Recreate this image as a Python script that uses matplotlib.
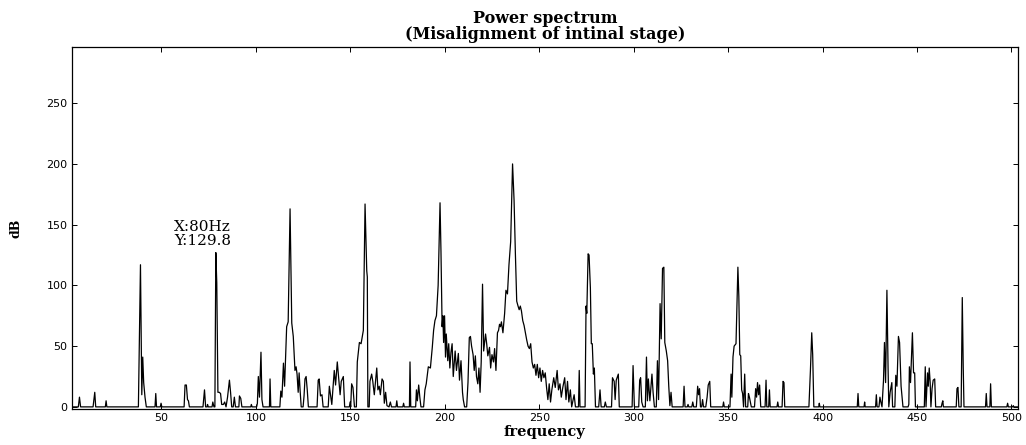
import matplotlib
matplotlib.use("Agg")
from matplotlib import pyplot as plt

# spectrum (frequency in Hz, level in dB)
freq = [
    2.5, 6.0, 6.6, 7.2, 13.8, 14.3, 14.7, 15.2, 20.3, 20.7, 21.1,
    37.8, 38.9, 39.6, 40.1, 40.6, 41.3, 42.0, 46.6, 47.0, 47.4,
    49.4, 49.8, 50.2, 62.0, 62.5, 63.2, 63.8, 64.3, 64.8,
    72.0, 72.8, 73.4, 74.2, 74.4, 74.8, 76.8, 77.2, 77.8, 78.3,
    78.8, 79.3, 79.9, 80.6, 81.3, 81.9, 82.8, 83.5, 84.2, 85.0,
    86.0, 86.6, 87.2, 88.0, 88.6, 89.2, 91.0, 91.3, 92.0, 92.6,
    97.3, 97.6, 98.0, 100.4, 100.8, 101.3, 101.9, 102.7, 103.2, 103.8,
    107.2, 107.5, 107.9, 112.7, 113.2, 113.8, 114.6, 115.2, 116.3, 117.1,
    118.1, 119.0, 119.8, 120.7, 121.3, 121.8, 122.4, 122.9, 123.4, 124.0,
    125.0, 125.5, 126.0, 126.6, 127.2, 127.8, 132.4, 133.0, 133.5, 134.2,
    135.0, 135.6, 138.3, 138.9, 139.6, 140.2, 141.5, 142.2, 143.1, 143.9,
    144.6, 145.2, 146.3, 147.0, 149.5, 149.9, 150.2, 150.7, 151.4, 152.2,
    153.2, 153.7, 154.8, 155.7, 156.9, 157.8, 158.7, 159.0, 159.3, 160.0,
    160.4, 161.3, 161.9, 162.7, 164.0, 164.6, 165.3, 165.9, 166.8, 167.5,
    168.0, 168.7, 169.4, 170.5, 171.2, 171.8, 174.2, 174.6, 175.0, 177.8,
    178.2, 178.6, 181.3, 181.6, 182.0, 184.6, 185.0, 185.5, 186.2, 186.8,
    187.4, 188.8, 189.5, 190.2, 191.3, 192.4, 193.4, 194.1, 194.8, 195.6,
    196.5, 197.5, 198.0, 198.6, 199.0, 199.4, 199.9, 200.4, 200.8, 201.6,
    202.1, 202.7, 203.3, 203.9, 204.5, 205.5, 206.2, 207.2, 207.8, 208.6,
    209.4, 209.8, 210.5, 211.6, 212.3, 213.0, 213.6, 214.2, 215.0, 215.6,
    216.2, 216.8, 217.5, 218.1, 218.7, 219.3, 220.0, 220.6, 221.6, 222.2,
    222.8, 223.7, 224.3, 225.0, 225.8, 226.4, 227.1, 227.9, 228.5, 229.0,
    229.5, 230.0, 230.8, 231.7, 232.4, 233.2, 234.0, 234.9, 235.9, 236.7,
    237.4, 238.1, 238.8, 239.4, 240.0, 240.6, 241.3, 242.0, 242.7, 243.4,
    244.1, 244.8, 245.5, 246.2, 246.9, 247.6, 248.3, 249.0, 249.7, 250.4,
    251.1, 251.8, 252.5, 253.2, 253.9, 254.6, 255.3, 256.0, 256.7, 257.7,
    258.5, 259.5, 260.2, 261.0, 261.7, 262.5, 263.5, 264.2, 265.0, 265.7,
    266.5, 267.2, 268.5, 269.2, 270.8, 271.2, 271.6, 274.3, 274.8, 275.2,
    275.9, 276.4, 277.1, 277.6, 278.1, 278.7, 279.2, 279.8, 281.5, 282.2,
    282.8, 284.5, 285.0, 285.6, 288.3, 288.8, 289.7, 290.2, 290.8, 291.9,
    292.4, 299.2, 299.7, 300.4, 302.7, 303.2, 303.7, 304.3, 305.0, 306.2,
    306.8, 307.3, 307.8, 308.6, 309.7, 310.3, 311.0, 312.0, 312.6, 313.2,
    314.0, 314.6, 315.3, 316.0, 316.5, 317.3, 318.0, 318.6, 319.2, 319.8,
    320.4, 326.2, 326.7, 327.2, 328.4, 328.8, 329.2, 330.8, 331.3, 331.8,
    333.2, 333.9, 334.4, 334.9, 335.4, 336.0, 336.5, 337.0, 338.2, 338.9,
    339.5, 340.3, 340.8, 347.2, 347.6, 348.0, 351.0, 351.6, 352.0, 352.6,
    353.2, 354.2, 355.2, 355.7, 356.2, 356.7, 357.2, 357.7, 358.2, 358.8,
    359.3, 360.4, 360.8, 361.3, 361.8, 362.3, 364.0, 364.6, 365.1, 365.6,
    366.2, 366.7, 367.3, 369.6, 370.1, 370.5, 371.5, 371.9, 372.3, 375.9,
    376.3, 376.7, 378.6, 379.1, 379.6, 380.0, 392.8, 393.6, 394.3, 394.8,
    395.4, 398.0, 398.3, 398.6, 418.4, 418.8, 419.2, 422.0, 422.3, 422.6,
    428.1, 428.5, 428.9, 429.9, 430.4, 430.9, 431.5, 432.3, 432.8, 433.4,
    434.1, 434.7, 435.1, 435.8, 436.7, 437.1, 438.3, 438.8, 439.4, 440.2,
    440.8, 441.6, 442.1, 442.6, 445.3, 445.7, 446.0, 446.6, 447.6, 448.2,
    448.8, 449.2, 453.9, 454.4, 454.8, 455.6, 456.0, 456.5, 457.0, 457.4,
    458.0, 458.6, 459.4, 459.9, 462.9, 463.3, 463.7, 464.0, 470.8, 471.2,
    471.7, 472.2, 473.4, 474.0, 474.5, 474.9, 486.3, 486.7, 487.1, 488.6,
    489.0, 489.4, 497.6, 498.0, 498.4, 500.7, 501.0, 501.3, 503.5,
]
db = [
    0, 0, 8, 0, 0, 7, 12, 0, 0, 5, 0,
    0, 117, 10, 41, 20, 8, 0, 0, 11, 0,
    0, 3, 0, 0, 18, 18, 6, 5, 0,
    0, 14, 0, 0, 2, 0, 0, 4, 0, 0,
    127, 102, 12, 12, 11, 2, 2, 4, 0, 8,
    22, 12, 0, 0, 8, 0, 0, 9, 7, 0,
    0, 2, 0, 0, 3, 25, 8, 45, 6, 0,
    0, 23, 0, 0, 13, 8, 36, 17, 66, 70,
    163, 69, 58, 30, 33, 27, 12, 28, 14, 0,
    0, 9, 23, 25, 14, 0, 0, 22, 23, 9,
    10, 0, 0, 17, 9, 2, 30, 18, 37, 23,
    10, 21, 25, 0, 0, 4, 0, 19, 16, 0,
    0, 37, 53, 52, 63, 167, 112, 107, 0, 0,
    21, 27, 21, 10, 32, 14, 17, 10, 23, 21,
    3, 12, 1, 0, 4, 0, 0, 5, 0, 0,
    3, 0, 0, 37, 0, 0, 14, 5, 18, 8,
    0, 0, 14, 19, 33, 32, 49, 63, 71, 75,
    100, 168, 128, 66, 75, 53, 75, 41, 60, 38,
    52, 32, 45, 52, 25, 46, 30, 44, 22, 38,
    12, 6, 0, 0, 20, 57, 58, 50, 43, 30,
    42, 25, 19, 32, 12, 37, 101, 46, 60, 52,
    42, 49, 32, 43, 37, 48, 30, 61, 63, 68,
    66, 70, 61, 77, 96, 93, 117, 136, 200, 170,
    126, 87, 83, 80, 83, 79, 71, 67, 61, 55,
    50, 48, 52, 37, 32, 35, 26, 35, 24, 32,
    21, 30, 24, 28, 16, 6, 19, 4, 14, 24,
    16, 30, 14, 19, 8, 16, 24, 6, 21, 4,
    14, 0, 10, 0, 0, 30, 0, 0, 83, 77,
    126, 125, 98, 52, 52, 27, 32, 0, 0, 14,
    0, 0, 4, 0, 0, 24, 21, 6, 22, 27,
    0, 0, 34, 0, 0, 22, 24, 4, 0, 0,
    41, 5, 23, 5, 27, 12, 0, 0, 38, 6,
    85, 56, 114, 115, 53, 46, 38, 17, 1, 12,
    0, 0, 17, 0, 0, 2, 0, 0, 4, 0,
    0, 17, 10, 15, 0, 0, 6, 0, 0, 8,
    18, 21, 0, 0, 4, 0, 0, 27, 8, 41,
    50, 52, 115, 91, 43, 42, 14, 11, 0, 27,
    0, 0, 11, 8, 4, 0, 0, 15, 8, 20,
    10, 18, 0, 0, 22, 0, 0, 14, 0, 0,
    4, 0, 0, 21, 20, 0, 0, 30, 61, 43,
    0, 0, 3, 0, 0, 11, 0, 0, 4, 0,
    0, 10, 0, 0, 8, 4, 0, 22, 53, 20,
    96, 33, 0, 12, 20, 0, 0, 26, 17, 58,
    53, 17, 8, 0, 0, 2, 33, 20, 61, 28,
    28, 0, 0, 33, 0, 28, 17, 32, 20, 0,
    15, 22, 23, 0, 0, 3, 5, 0, 0, 15,
    16, 0, 0, 90, 33, 0, 0, 11, 0, 0,
    19, 0, 0, 3, 0, 0, 1, 0, 0,
]

x_ticks = [50, 100, 150, 200, 250, 300, 350, 400, 450, 500]
y_ticks = [0, 50, 100, 150, 200, 250]

note_text = "X:80Hz\nY:129.8"
note_pos = (56.7, 131)

serif = ["DejaVu Serif"]
sans = ["DejaVu Sans"]

fig = plt.figure(figsize=(10.26, 4.45), dpi=100)
ax = fig.add_axes([0.0699, 0.0802, 0.9223, 0.8135])

ax.plot(freq, db, color="black", linewidth=0.9)

ax.set_xlim(2.5, 503.5)
ax.set_ylim(-2, 296)
ax.set_xticks(x_ticks)
ax.set_yticks(y_ticks)
ax.tick_params(direction="in", top=True, right=True, length=3.6, width=0.7,
               labelsize=8, pad=3)
for lab in ax.get_xticklabels() + ax.get_yticklabels():
    lab.set_family(sans)
for sp in ax.spines.values():
    sp.set_linewidth(0.9)

ax.set_title("Power spectrum\n(Misalignment of intinal stage)", family=serif,
             fontweight="bold", fontsize=11.5, linespacing=0.95, pad=6)
ax.set_xlabel("frequency", family=serif, fontweight="bold", fontsize=10.5, labelpad=1)
ax.set_ylabel("dB", family=serif, fontweight="bold", fontsize=9, labelpad=17)

ax.text(note_pos[0], note_pos[1], note_text, family=serif, fontsize=11,
        linespacing=0.95, va="bottom", ha="left")

fig.savefig("out.png", dpi=100)
